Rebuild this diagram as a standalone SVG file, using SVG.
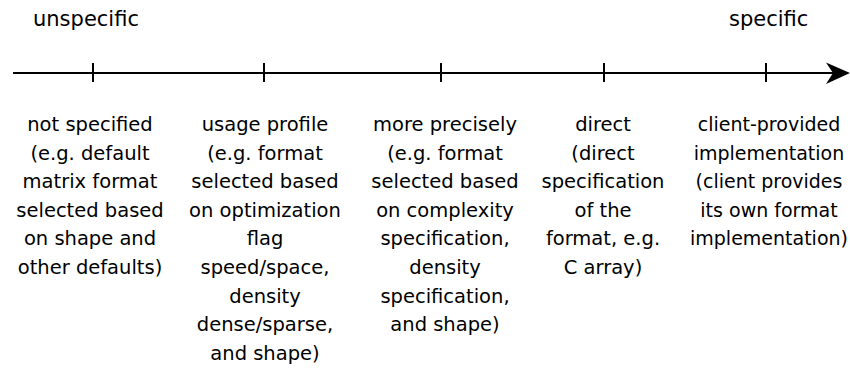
<svg xmlns="http://www.w3.org/2000/svg" width="850" height="373" viewBox="0 0 850 373">
<style>
text { font-family: "DejaVu Sans", "Liberation Sans", sans-serif; fill: #000; }
.t { font-size: 21px; }
.c { font-size: 19.5px; text-anchor: middle; }
.c5 { font-size: 19px; }
.ax { stroke: #000; stroke-width: 2; fill: none; }
.ah { fill: #000; stroke: none; }
</style>
<rect width="850" height="373" fill="#fff"/>
<g id="labels">
<text class="t" x="33" y="26">unspecific</text>
<text class="t" x="729" y="26">specific</text>
</g>
<g id="connectors">
<line class="ax" x1="13" y1="73" x2="834" y2="73"/>
<path class="ah" d="M850,73 L826,62.5 L833,73 L826,84 Z"/>
<line class="ax" x1="93" y1="63" x2="93" y2="82"/>
<line class="ax" x1="264" y1="63" x2="264" y2="82"/>
<line class="ax" x1="441" y1="63" x2="441" y2="82"/>
<line class="ax" x1="604" y1="63" x2="604" y2="82"/>
<line class="ax" x1="766" y1="63" x2="766" y2="82"/>
</g>
<g id="n1">
<text class="c" x="90" y="131">not specified</text>
<text class="c" x="90" y="159.6">(e.g. default</text>
<text class="c" x="90" y="188.2">matrix format</text>
<text class="c" x="90" y="216.8">selected based</text>
<text class="c" x="90" y="245.4">on shape and</text>
<text class="c" x="90" y="274">other defaults)</text>
</g>
<g id="n2">
<text class="c" x="265" y="131">usage profile</text>
<text class="c" x="265" y="159.6">(e.g. format</text>
<text class="c" x="265" y="188.2">selected based</text>
<text class="c" x="265" y="216.8">on optimization</text>
<text class="c" x="265" y="245.4">flag</text>
<text class="c" x="265" y="274">speed/space,</text>
<text class="c" x="265" y="302.6">density</text>
<text class="c" x="265" y="331.2">dense/sparse,</text>
<text class="c" x="265" y="359.8">and shape)</text>
</g>
<g id="n3">
<text class="c" x="445" y="131">more precisely</text>
<text class="c" x="445" y="159.6">(e.g. format</text>
<text class="c" x="445" y="188.2">selected based</text>
<text class="c" x="445" y="216.8">on complexity</text>
<text class="c" x="445" y="245.4">specification,</text>
<text class="c" x="445" y="274">density</text>
<text class="c" x="445" y="302.6">specification,</text>
<text class="c" x="445" y="331.2">and shape)</text>
</g>
<g id="n4">
<text class="c" x="603" y="131">direct</text>
<text class="c" x="603" y="159.6">(direct</text>
<text class="c" x="603" y="188.2">specification</text>
<text class="c" x="603" y="216.8">of the</text>
<text class="c" x="603" y="245.4">format, e.g.</text>
<text class="c" x="603" y="274">C array)</text>
</g>
<g id="n5">
<text class="c c5" x="769" y="131">client-provided</text>
<text class="c c5" x="769" y="159.6">implementation</text>
<text class="c c5" x="769" y="188.2">(client provides</text>
<text class="c c5" x="769" y="216.8">its own format</text>
<text class="c c5" x="769" y="245.4">implementation)</text>
</g>
</svg>
